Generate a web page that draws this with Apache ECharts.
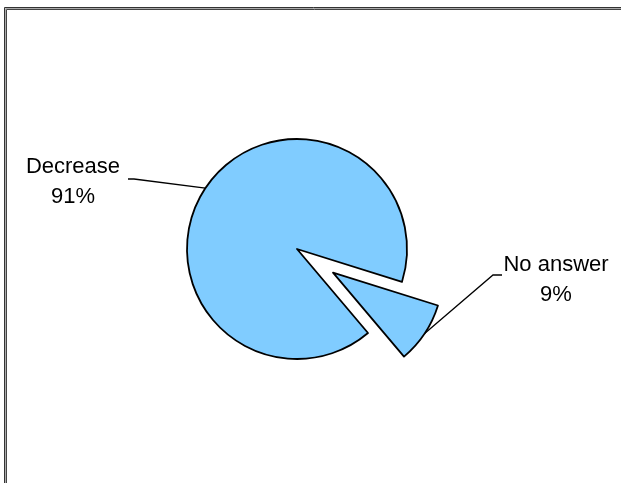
<!DOCTYPE html>
<html>
<head>
<meta charset="utf-8">
<script src="https://cdn.jsdelivr.net/npm/echarts@6/dist/echarts.min.js"></script>
<style>
html,body{margin:0;padding:0;background:#fff;}
#chart{width:621px;height:483px;}
</style>
</head>
<body>
<div id="chart"></div>
<script>
const categories = ['Decrease', 'No answer'];
const values = [91, 9];
const explodedCategory = 'No answer';

const chart = echarts.init(document.getElementById('chart'), null, {renderer: 'canvas'});

const FILL = '#80CCFF';
const pieCenter = [297, 249];
const explodeOffset = [36, 23.6];

const labelFont = {
  fontFamily: 'Liberation Sans, Arial, sans-serif',
  fontSize: 22,
  color: '#000',
  lineHeight: 30,
  align: 'center'
};

const labelPlacement = {
  'Decrease': {x: 73, y: 182, line: [[134, 179], [128, 179]]},
  'No answer': {x: 556, y: 280, line: [[493, 275], [502, 275]]}
};

function makeSeries(showExploded) {
  return {
    type: 'pie',
    center: showExploded ? [pieCenter[0] + explodeOffset[0], pieCenter[1] + explodeOffset[1]] : pieCenter,
    radius: 110,
    startAngle: 310.2,
    clockwise: true,
    avoidLabelOverlap: false,
    silent: true,
    emphasis: {disabled: true},
    label: Object.assign({
      show: true,
      position: 'outside',
      formatter: p => p.name + '\n' + Math.round(p.percent) + '%'
    }, labelFont),
    labelLine: {show: true, lineStyle: {color: '#000', width: 1.3}},
    labelLayout: function (params) {
      const name = categories[params.dataIndex];
      const visible = (name === explodedCategory) === showExploded;
      if (!visible) return {};
      const pl = labelPlacement[name];
      const start = params.labelLinePoints ? params.labelLinePoints[0] : null;
      const res = {
        x: pl.x, y: pl.y,
        align: 'center', verticalAlign: 'middle'
      };
      if (start) res.labelLinePoints = [start, pl.line[0], pl.line[1]];
      return res;
    },
    data: categories.map((c, i) => {
      const visible = (c === explodedCategory) === showExploded;
      return {
        name: c,
        value: values[i],
        itemStyle: visible
          ? {color: FILL, borderColor: '#000', borderWidth: 1.8}
          : {color: 'rgba(0,0,0,0)', borderColor: 'rgba(0,0,0,0)', borderWidth: 0},
        label: {show: visible},
        labelLine: {show: visible}
      };
    })
  };
}

const option = {
  animation: false,
  backgroundColor: '#fff',
  graphic: [
    {type: 'rect', silent: true, shape: {x: 4.5, y: 7.5, width: 700, height: 600},
     style: {fill: null, stroke: '#333', lineWidth: 1}},
    {type: 'rect', silent: true, shape: {x: 5.5, y: 8.5, width: 700, height: 600},
     style: {fill: null, stroke: '#aaa', lineWidth: 1}},
    {type: 'rect', silent: true, shape: {x: 6.5, y: 9.5, width: 700, height: 600},
     style: {fill: null, stroke: '#444', lineWidth: 1}}
  ],
  series: [makeSeries(false), makeSeries(true)]
};
chart.setOption(option);
</script>
</body>
</html>
